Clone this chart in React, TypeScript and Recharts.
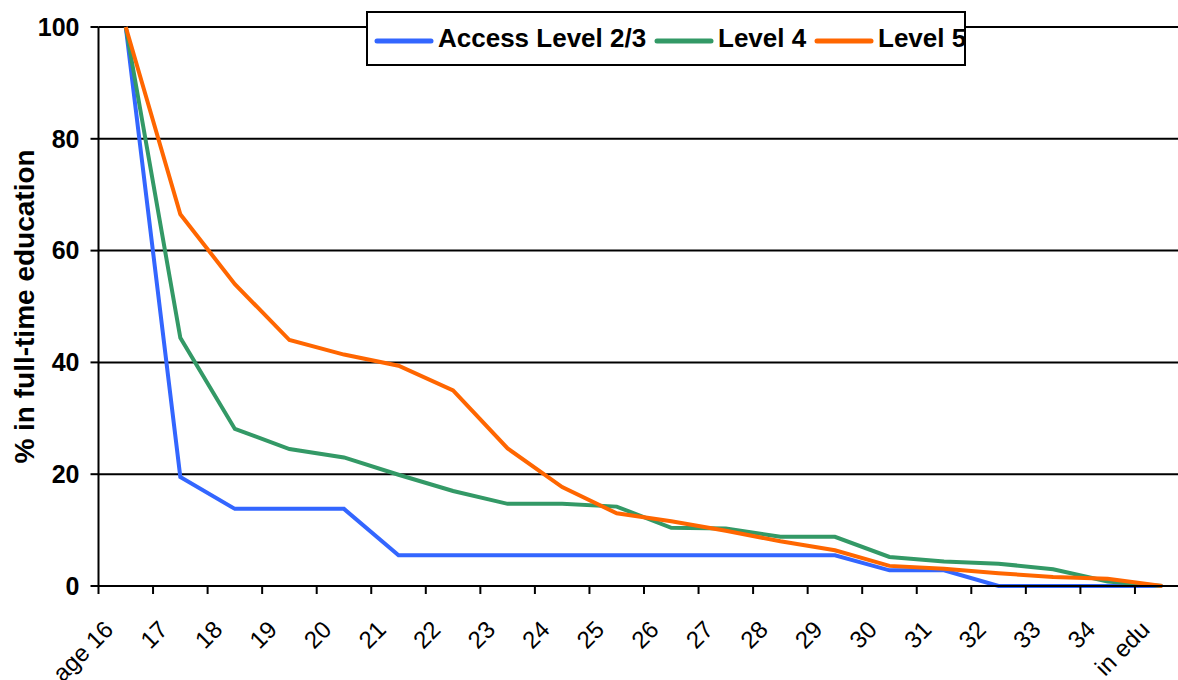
import React from "react";
import { LineChart, Line, XAxis, YAxis, CartesianGrid } from "recharts";

const categories = ["age 16", "17", "18", "19", "20", "21", "22", "23", "24", "25", "26", "27", "28", "29", "30", "31", "32", "33", "34", "in edu"];
const accessLevel23 = [100, 19.5, 13.8, 13.8, 13.8, 5.5, 5.5, 5.5, 5.5, 5.5, 5.5, 5.5, 5.5, 5.5, 2.8, 2.8, 0, 0, 0, 0];
const level4 = [100, 44.4, 28.1, 24.5, 23.0, 19.9, 17.0, 14.7, 14.7, 14.2, 10.4, 10.3, 8.8, 8.8, 5.2, 4.4, 4.0, 3.0, 0.8, 0];
const level5 = [100, 66.5, 54.0, 44.0, 41.4, 39.4, 35.0, 24.6, 17.7, 13.0, 11.6, 9.9, 8.0, 6.4, 3.6, 3.1, 2.3, 1.6, 1.3, 0];
const yTicks = [0, 20, 40, 60, 80, 100];
const yTitle = "% in full-time education";

const series = [
  { key: "access", name: "Access Level 2/3", color: "#3366FF", values: accessLevel23 },
  { key: "l4", name: "Level 4", color: "#339966", values: level4 },
  { key: "l5", name: "Level 5", color: "#FF6600", values: level5 },
];

const data = categories.map((c, i) => ({
  cat: c,
  access: accessLevel23[i],
  l4: level4[i],
  l5: level5[i],
}));

const FONT = "'Liberation Sans', Arial, Helvetica, sans-serif";
const CHART_W = 1200;
const CHART_H = 680;
const M_TOP = 27;
const M_RIGHT = 10.5;
const Y_W = 98.5;
const X_H = 94;
const PLOT_W = CHART_W - Y_W - M_RIGHT;
const BAND = PLOT_W / categories.length;

const XTick = (props: any) => {
  const { x, y, payload } = props;
  const bx = x - BAND / 2;
  const tx = x - 11;
  const ty = y + 45;
  return (
    <g>
      <line x1={bx} y1={y} x2={bx} y2={y + 8} stroke="#000" strokeWidth={2} />
      <text
        x={tx}
        y={ty}
        transform={`rotate(-45 ${tx} ${ty})`}
        textAnchor="end"
        fontFamily={FONT}
        fontSize={24}
        fill="#000"
      >
        {payload.value}
      </text>
    </g>
  );
};

const TITLE_Y = M_TOP + (CHART_H - M_TOP - X_H) / 2;

const YTitle = () => (
  <text
    x={34}
    y={TITLE_Y}
    transform={`rotate(-90 34 ${TITLE_Y})`}
    textAnchor="middle"
    fontFamily={FONT}
    fontWeight="bold"
    fontSize={28}
    fill="#000"
  >
    {yTitle}
  </text>
);

const legendOffsets = [
  { icon: 6, text: 70 },
  { icon: 286, text: 350 },
  { icon: 446, text: 510 },
];

export default function App() {
  return (
    <div style={{ position: "absolute", left: 0, top: 0, width: 1178, height: 680, overflow: "hidden", background: "#fff" }}>
      <LineChart
        width={CHART_W}
        height={CHART_H}
        data={data}
        margin={{ top: M_TOP, right: M_RIGHT, left: 0, bottom: 0 }}
      >
        <CartesianGrid vertical={false} horizontal stroke="#000" strokeWidth={2} />
        <XAxis
          dataKey="cat"
          interval={0}
          height={X_H}
          padding={{ left: BAND / 2, right: BAND / 2 }}
          axisLine={{ stroke: "#000", strokeWidth: 2 }}
          tickLine={false}
          tickSize={0}
          tickMargin={0}
          tick={<XTick />}
        />
        <YAxis
          width={Y_W}
          domain={[0, 100]}
          ticks={yTicks}
          interval={0}
          axisLine={{ stroke: "#000", strokeWidth: 2 }}
          tickLine={{ stroke: "#000", strokeWidth: 2 }}
          tickSize={8}
          tickMargin={11}
          tick={{ fill: "#000", fontFamily: FONT, fontWeight: "bold", fontSize: 25 }}
          label={{ content: () => <YTitle /> }}
        />
        {series.map((s) => (
          <Line
            key={s.key}
            type="linear"
            dataKey={s.key}
            name={s.name}
            stroke={s.color}
            strokeWidth={4}
            dot={false}
            activeDot={false}
            isAnimationActive={false}
          />
        ))}
      </LineChart>
      <div
        style={{
          position: "absolute",
          left: 366,
          top: 11,
          width: 600,
          height: 55,
          border: "2px solid #000",
          boxSizing: "border-box",
          background: "#fff",
          fontFamily: FONT,
        }}
      >
        {series.map((s, i) => (
          <React.Fragment key={s.key}>
            <svg
              width={60}
              height={12}
              style={{ position: "absolute", left: legendOffsets[i].icon, top: 22 }}
            >
              <line x1={3} y1={6} x2={57} y2={6} stroke={s.color} strokeWidth={5} strokeLinecap="round" />
            </svg>
            <span
              style={{
                position: "absolute",
                left: legendOffsets[i].text,
                top: 0,
                lineHeight: "51px",
                fontSize: 26,
                fontWeight: "bold",
                color: "#000",
                whiteSpace: "nowrap",
              }}
            >
              {s.name}
            </span>
          </React.Fragment>
        ))}
      </div>
    </div>
  );
}
